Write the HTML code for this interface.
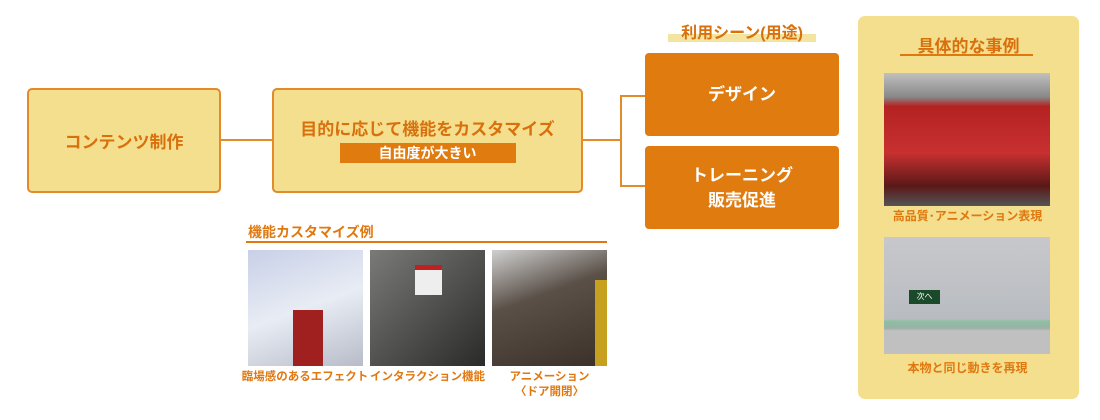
<!DOCTYPE html>
<html><head><meta charset="utf-8"><style>
*{margin:0;padding:0;box-sizing:border-box}
body{width:1100px;height:420px;background:#fff;position:relative;font-family:"Liberation Sans","Noto Sans CJK JP",sans-serif;overflow:hidden}
.a{position:absolute}
.box{position:absolute;background:#f4df8e;border:2px solid #e38a2a;border-radius:5px;color:#d9700e;display:flex;flex-direction:column;align-items:center;justify-content:center;font-size:17px;font-weight:bold}
.ob{position:absolute;background:#e07b10;border-radius:4px;color:#fff;display:flex;flex-direction:column;align-items:center;justify-content:center;text-align:center;font-size:17px;font-weight:bold;line-height:25px}
.ln{position:absolute;background:#e38a2a}
.cap{position:absolute;color:#e07810;font-size:11.5px;font-weight:bold;text-align:center;line-height:15px}
.img{position:absolute}
</style></head><body>
<div class="box" style="left:27px;top:88px;width:194px;height:105px">コンテンツ制作</div>
<div class="ln" style="left:221px;top:139px;width:51px;height:2px"></div>
<div class="box" style="left:272px;top:88px;width:311px;height:105px"><div style="margin-top:-4px">目的に応じて機能をカスタマイズ</div><div style="background:#e07b10;color:#fff;font-size:14px;width:176px;height:20px;line-height:20px;text-align:center;margin-top:3px">自由度が大きい</div></div>
<div class="ln" style="left:583px;top:139px;width:38px;height:2px"></div>
<div class="ln" style="left:620px;top:95px;width:2px;height:91px"></div>
<div class="ln" style="left:620px;top:95px;width:26px;height:2px"></div>
<div class="ln" style="left:620px;top:185px;width:26px;height:2px"></div>
<div class="a" style="left:668px;top:34px;width:148px;height:8px;background:#f3e4a0"></div>
<div class="a" style="left:662px;top:19px;width:160px;text-align:center;color:#d9700e;font-size:16px;font-weight:bold">利用シーン(用途)</div>
<div class="ob" style="left:645px;top:53px;width:194px;height:83px">デザイン</div>
<div class="ob" style="left:645px;top:146px;width:194px;height:83px">トレーニング<br>販売促進</div>
<div class="a" style="left:248px;top:222px;color:#e07810;font-size:14px;font-weight:bold">機能カスタマイズ例</div>
<div class="ln" style="left:246px;top:241px;width:361px;height:2px;background:#e07810"></div>
<div class="img" style="left:248px;top:250px;width:115px;height:116px;background:linear-gradient(160deg,#c8d0e8,#e8ecf4 50%,#b8bcc8);"><div class="a" style="left:45px;top:60px;width:30px;height:56px;background:#a02020"></div></div>
<div class="img" style="left:370px;top:250px;width:115px;height:116px;background:linear-gradient(135deg,#7a7a78,#4a4a48 60%,#2a2a2a)"><div class="a" style="left:45px;top:15px;width:27px;height:30px;background:#eee;border-top:5px solid #c02020"></div></div>
<div class="img" style="left:492px;top:250px;width:115px;height:116px;background:linear-gradient(160deg,#d0d0d0,#5a5048 40%,#3a3028)"><div class="a" style="right:0;top:30px;width:12px;height:86px;background:#c8a020"></div></div>
<div class="cap" style="left:240px;top:370px;width:130px">臨場感のあるエフェクト</div>
<div class="cap" style="left:365px;top:370px;width:125px">インタラクション機能</div>
<div class="cap" style="left:492px;top:370px;width:115px">アニメーション<br>〈ドア開閉〉</div>
<div class="a" style="left:858px;top:16px;width:221px;height:383px;background:#f4df8e;border-radius:7px"></div>
<div class="a" style="left:900px;top:32px;width:137px;text-align:center;color:#d9700e;font-size:17px;font-weight:bold">具体的な事例</div>
<div class="ln" style="left:900px;top:54px;width:133px;height:2px;background:#e07810"></div>
<div class="img" style="left:884px;top:73px;width:166px;height:133px;background:linear-gradient(180deg,#c0c0c0 0%,#888 18%,#b42222 25%,#c83030 60%,#5a1818 85%,#555 100%)"></div>
<div class="cap" style="left:875px;top:209px;width:185px;font-size:12px">高品質･アニメーション表現</div>
<div class="img" style="left:884px;top:237px;width:166px;height:117px;background:linear-gradient(180deg,#c8c8cc 0%,#b8bcc0 70%,#8cc0a0 72%,#9cb0a8 78%,#c0c0c0 80%)"><div class="a" style="left:25px;top:53px;width:31px;height:14px;background:#1a4a2a;color:#fff;font-size:8px;line-height:14px;text-align:center">次へ</div></div>
<div class="cap" style="left:875px;top:361px;width:185px;font-size:12px">本物と同じ動きを再現</div>
</body></html>
